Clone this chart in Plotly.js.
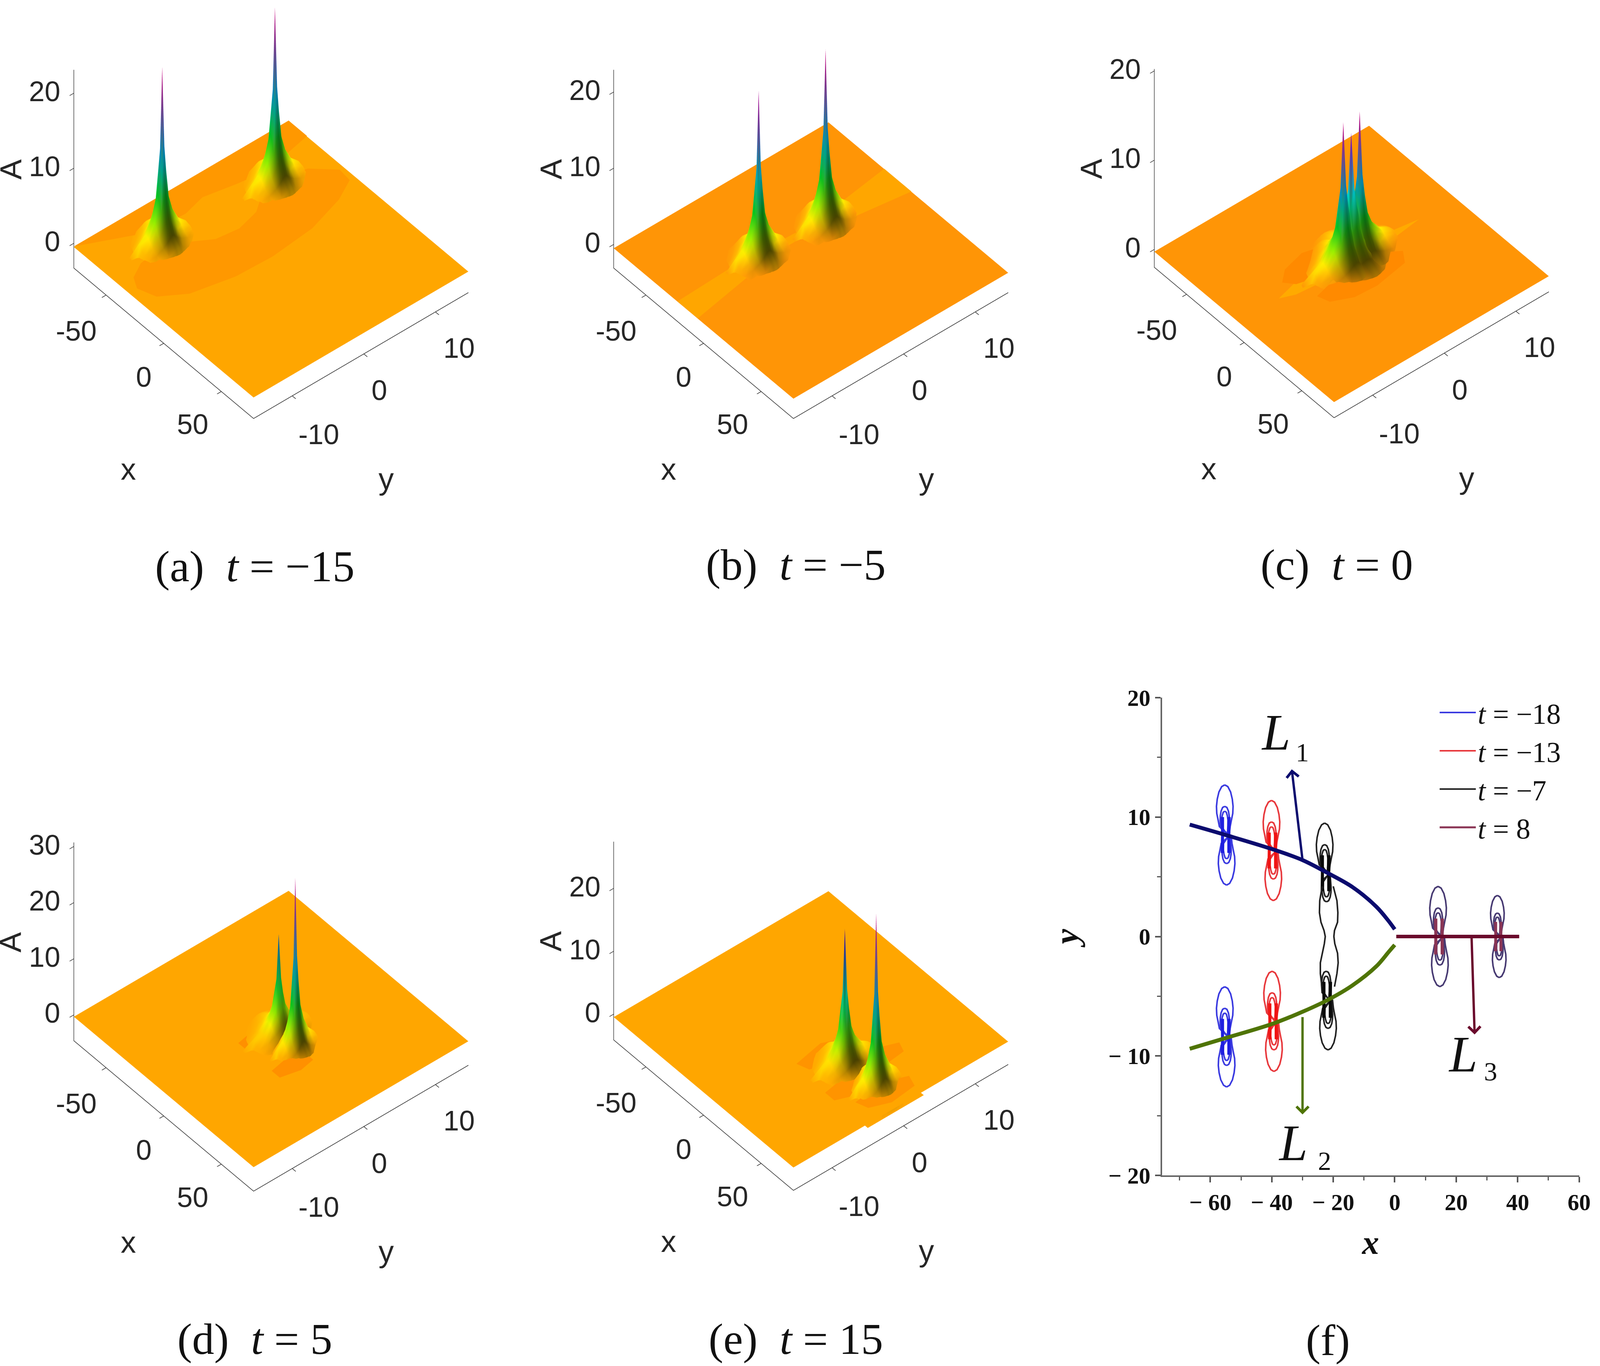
<!DOCTYPE html>
<html>
<head>
<meta charset="utf-8">
<script src="https://cdn.plot.ly/plotly-3.0.1.min.js"></script>
<style>
html,body{margin:0;padding:0;background:#fff;overflow:hidden}
.panel3d{position:absolute}
#chart{position:absolute;left:0;top:0;pointer-events:none}
</style>
</head>
<body>
<div id="p0" class="panel3d"></div>
<div id="p1" class="panel3d"></div>
<div id="p2" class="panel3d"></div>
<div id="p3" class="panel3d"></div>
<div id="p4" class="panel3d"></div>
<div id="chart"></div>
<script>
// positions below are in pixels of the 5442x3497 reference; the browser may give a narrower window
const W = 5442, H = 3497;
const pageW = Math.min(window.innerWidth || W, W);
const squeeze = pageW / W;
const textScale = 0.87 + 0.13 * (squeeze - 0.7526) / 0.2474;

// panels a-e: view box
const xRange = [-78, 78];
const yRange = [-15.4, 14.6];
const xTicks = [-50, 0, 50];
const yTicks = [-10, 0, 10];
const zRanges = [[-3.3, 23.1], [-3.1, 22.9], [-2.0, 20.2], [-4.6, 30.7], [-4.1, 27.4]];
const zTicks = [[0, 10, 20], [0, 10, 20], [0, 10, 20], [0, 10, 20, 30], [0, 10, 20]];
const plateLevels = [-0.5, -0.5, -0.25, -0.33, -0.47];
const plateColors = [[255, 166, 0], [255, 149, 6], [255, 149, 6], [255, 166, 0], [255, 166, 0]];
const colourTops = [22.5, 22, 15.3, 29.5, 26.5];

// peak centres (x, y), height and footprint
const peaksX = [[-51, -47], [-22.4, -19], [-4.7, -6, -5.3], [3.5, 18.5], [31.3, 56]];
const peaksY = [[-7.4, 7.7], [-4.1, 4.7], [-0.8, 1.7, 0.4], [0.1, 0], [-0.7, -0.3]];
const peaksA = [[22.5, 22.5], [21, 22], [15.3, 15.2, 13.5], [16.8, 29.5], [20.5, 26.5]];
const peaksWide = [[1, 1], [1, 1], [1.3, 1.3, 1.5], [1.1, 0.8], [1.05, 0.85]];

// height profile of one lump
const spikeDX = [-20, -14, -9, -5.5, -3.2, -1.6, 0, 1.6, 3.2, 5.5, 9, 14, 20];
const spikeDY = [-4.6, -3.3, -2.2, -1.3, -0.65, -0.3, 0, 0.3, 0.65, 1.3, 2.2, 3.3, 4.6];
const spikeZ = [
  [-2, -2, -2, -2, -2, -2, -0.4, -0.3, -2, -2, -2, -2, -2],
  [-2, -2, -0.6, -0.4, -0.1, 0.1, 0.7, 0.8, 0.1, -0.1, -0.4, -0.6, -2],
  [-2, -0.6, -0.3, 0.1, 0.6, 1, 1.2, 1, 0.6, 0.1, -0.3, -0.6, -2],
  [-2, -0.4, 0.1, 0.9, 1.9, 2.6, 3, 2.6, 1.9, 0.9, 0.1, -0.4, -2],
  [-2, -0.1, 0.6, 1.9, 3.5, 5, 5.8, 5, 3.5, 1.9, 0.6, -0.1, -2],
  [-2, 0.1, 1, 2.6, 5, 8.5, 11.5, 8.5, 5, 2.6, 1, 0.1, -2],
  [-2, 0.2, 1.2, 3, 5.8, 11.5, 22, 11.5, 5.8, 3, 1.2, 0.2, -2],
  [-2, 0.1, 1, 2.6, 5, 8.5, 11.5, 8.5, 5, 2.6, 1, 0.1, -2],
  [-2, -0.1, 0.6, 1.9, 3.5, 5, 5.8, 5, 3.5, 1.9, 0.6, -0.1, -2],
  [-2, -0.4, 0.1, 0.9, 1.9, 2.6, 3, 2.6, 1.9, 0.9, 0.1, -0.4, -2],
  [-2, -0.6, -0.3, 0.1, 0.6, 1, 1.2, 1, 0.6, 0.1, -0.3, -0.6, -2],
  [-2, -2, -0.6, -0.4, -0.1, 0.1, 0.2, 0.1, -0.1, -0.4, -0.6, -2, -2],
  [-2, -2, -2, -2, -2, -2, -2, -2, -2, -2, -2, -2, -2]
];
// brightness of the lump: the side facing the viewer is dark near the ground
const spikeShade = [
  [1, 1, 1, 1, 1, 1, 1, 1, 1, 1, 1, 1, 1],
  [1, 1, 1, 1, 1, 1, 1, 1, 1, 1, 1, 1, 1],
  [1, 1, 1, 1, 1, 1, 1, 1, 1, 0.95, 0.9, 1, 1],
  [1, 1, 1, 1, 1, 1, 1, 1, 0.9, 0.75, 0.7, 0.85, 1],
  [1, 1, 1, 1, 1, 1, 1, 0.95, 0.75, 0.5, 0.4, 0.7, 1],
  [1, 1, 1, 1, 1, 1, 1, 0.9, 0.65, 0.38, 0.3, 0.6, 1],
  [1, 1, 1, 1, 1, 1, 1, 0.9, 0.6, 0.35, 0.28, 0.6, 1],
  [1, 1, 1, 1, 1, 0.88, 0.85, 0.8, 0.62, 0.38, 0.3, 0.6, 1],
  [1, 1, 1, 1, 1, 0.85, 0.82, 0.78, 0.68, 0.5, 0.4, 0.7, 1],
  [1, 1, 1, 1, 1, 0.85, 0.82, 0.8, 0.8, 0.75, 0.7, 0.85, 1],
  [1, 1, 1, 1, 1, 1, 1, 1, 1, 0.95, 0.9, 1, 1],
  [1, 1, 1, 1, 1, 1, 1, 1, 1, 1, 1, 1, 1],
  [1, 1, 1, 1, 1, 1, 1, 1, 1, 1, 1, 1, 1]
];
const stopPlaces = [0, 0.07, 0.14, 0.27, 0.38, 0.47, 0.6, 0.72, 0.86, 1];
const stopColors = [[255, 166, 0], [255, 240, 0], [144, 240, 0], [0, 192, 32], [0, 176, 128], [0, 216, 224], [0, 48, 176], [16, 0, 160], [128, 0, 192], [208, 0, 128]];

// tinted regions on the plates: outline points in x and y, with a colour
const tintA1X = [-30, -18, -8, -2, -1, -4, -12, -20, -30, -42, -47, -42, -34, -30, -32, -40, -47, -44, -38];
const tintA1Y = [-14.3, -13.5, -10.5, -5, 0, 6, 11, 13.8, 14, 11.5, 8, 5, 3, 0, -3, -5.5, -8, -11.5, -13.5];
const tintA2X = [-78, -60, -58, -62, -58, -55, -62, -78];
const tintA2Y = [-15.4, -8, -3, 0, 4, 8, 14.6, 14.6];
const tintB1X = [-22.6, -5, -13, -17, -17, -12, -6, -29.6, -24, -22, -23, -24];
const tintB1Y = [-15.4, -15.4, -8, -2, 2, 6, 14.6, 14.6, 8, 2, -2, -8];
const tintC1X = [-4.7, -1, 1, 1.5, 0, -3, -6.5, -9, -9.5, -8.5];
const tintC1Y = [-9.8, -8, -4, 0, 5, 9.5, 5, 1, -3, -7];
const tintC2X = [-13, -7, -3, -5, -12, -20, -24, -20];
const tintC2Y = [-8, -7, -4, -1, 0.5, -0.5, -3.5, -6.5];
const tintC3X = [8, 16, 22, 23, 19, 11, 4, 2];
const tintC3Y = [-6.5, -6, -3.5, -0.5, 4, 5, 3, -2];
const tintD1X = [-3, 3, 6, 4, -1, -5];
const tintD1Y = [-4.5, -4.5, -2.5, -1, -0.8, -2.5];
const tintD2X = [26, 33, 36, 34, 27, 24];
const tintD2Y = [-4.5, -4.5, -2, 0, 0, -2.5];
const tintE1X = [16, 24, 28, 26, 19, 12];
const tintE1Y = [-5, -4.5, -2, 1.5, 2, -1];
const tintE2X = [44, 52, 57, 54, 47, 41];
const tintE2Y = [-5.5, -5.5, -3, 0.5, 1, -2];
const tintE3X = [37, 44, 49, 47, 40, 35];
const tintE3Y = [-1, -1, 1.5, 5, 5.5, 3];
const tintE4X = [61, 69, 74, 72, 64, 58];
const tintE4Y = [-4, -3.5, -1, 2.5, 3, 0];
const darkTint = 'rgb(255,152,0)', paleTint = 'rgb(255,166,0)';
const tints = [
  [[tintA1X, tintA1Y, -15, -1, darkTint], [tintA2X, tintA2Y, -68, 0, darkTint]],
  [[tintB1X, tintB1Y, -19, 0, paleTint]],
  [[tintC1X, tintC1Y, -4, 0, 'rgb(255,170,0)'], [tintC2X, tintC2Y, -13, -3.6, 'rgb(255,138,0)'], [tintC3X, tintC3Y, 12, -0.5, 'rgb(255,138,0)']],
  [[tintD1X, tintD1Y, 1, -2.6, 'rgb(255,144,0)'], [tintD2X, tintD2Y, 30, -2, 'rgb(255,144,0)']],
  [[tintE1X, tintE1Y, 20, -1.5, 'rgb(255,148,0)'], [tintE2X, tintE2Y, 49, -2.3, 'rgb(255,148,0)'], [tintE3X, tintE3Y, 42, 2, 'rgb(255,148,0)'], [tintE4X, tintE4Y, 66, -0.5, 'rgb(255,148,0)']]
];

// box centre of each 3D panel on the page, in pixels
const panelCX = [921.5, 2758.5, 4596.5, 921.5, 2758.5];
const panelCY = [463.5, 463.5, 462, 2442, 2440];
const captions = ['(a)  <i>t</i> = −15', '(b)  <i>t</i> = −5', '(c)  <i>t</i> = 0', '(d)  <i>t</i> = 5', '(e)  <i>t</i> = 15', '(f)'];
const captionX = [867, 2707, 4547, 867, 2707, 4516];
const captionY = [1449, 1445, 1445, 3427, 3427, 3430];

// 3D tick label spots, relative to the box centre
const xLabelText = ['-50', '0', '50'];
const xLabelDX = [-663, -433, -267];
const xLabelDY = [383, 502, 623];
const yLabelText = ['-10', '0', '10'];
const yLabelDX = [163, 369, 639];
const yLabelDY = [648, 536, 427];
const zLabelDX = -714;

// panel f: curves
const L1x = [-66.7, -55, -39.7, -30, -21.7, -13.8, -6, -2, 0];
const L1y = [9.37, 8.5, 7.3, 6.4, 5.3, 4.15, 2.5, 1.3, 0.6];
const L2x = [-66.7, -55, -39.7, -30, -21.7, -13.8, -6, -2, 0];
const L2y = [-9.4, -8.5, -7.3, -6.3, -5.3, -4.1, -2.5, -1.3, -0.7];
const L3x = [0.5, 40.5];
const L3y = [0, 0];

// lump contours, right half of the upper lobe, relative to the lump centre
const outerDX = [0, 1.0, 1.9, 2.45, 2.7, 2.6, 2.2, 1.75, 1.45];
const outerDY = [4.2, 4.05, 3.6, 3.0, 2.4, 1.8, 1.3, 0.7, 0];
const ringDX = [0, 0.7, 1.2, 1.45, 1.5, 1.35, 1.15];
const ringDY = [2.4, 2.3, 2.0, 1.6, 1.25, 0.6, 0];
const innerDX = [0, 0.5, 0.85, 1.05, 1.0, 0.85];
const innerDY = [2.0, 1.9, 1.6, 1.25, 0.7, 0];
const wallDX = [[0.85, 0.85], [1.1, 1.1], [1.3, 1.2]];
const wallDY = [1.5, 0];
const peanutX = [-23.6, -24.4, -24.5, -24, -23, -22.6, -22.9, -23.6, -24.2, -24.2, -23.7];
const peanutXr = [-20, -18.8, -18.5, -18.6, -19.6, -19.8, -19.5, -18.6, -18.4, -18.8, -19.6];
const peanutY = [4.2, 3, 2, 1.2, 0.5, 0, -0.6, -1.4, -2.2, -3.1, -4.2];

const blueX = [-55, -55], blueY = [8.5, -8.4];
const redX = [-39.8, -39.6], redY = [7.2, -7.1];
const blackX = [-22.5, -22], blackY = [5.3, -5.3];
const plumX = [14.4, 33.7], plumY = [0, 0], plumSize = [1, 0.82];

const seriesNames = ['<i>t</i> = −18', '<i>t</i> = −13', '<i>t</i> = −7', '<i>t</i> = 8'];
const xfTicks = [-60, -40, -20, 0, 20, 40, 60];
const xfLabels = ['− 60', '− 40', '− 20', '0', '20', '40', '60'];
const yfTicks = [-20, -10, 0, 10, 20];
const yfLabels = ['− 20', '− 10', '0', '10', '20'];

const traces = [];
const layout = {
  width: pageW, height: H,
  margin: {l: 0, r: 0, t: 0, b: 0},
  paper_bgcolor: 'rgba(0,0,0,0)', plot_bgcolor: 'rgba(0,0,0,0)',
  showlegend: true,
  annotations: []
};

// view of the 3D box, worked out from how its edges lie on the page
const xEdgeW = 611 * squeeze, xEdgeH = 385, yEdgeW = 732 * squeeze, yEdgeH = 323, zEdgeH = 507;
const sinEl = Math.sqrt((xEdgeH / xEdgeW) * (yEdgeH / yEdgeW));
const tanAz = Math.sqrt((xEdgeH / xEdgeW) / (yEdgeH / yEdgeW));
const az = Math.atan(tanAz), cosEl = Math.sqrt(1 - sinEl * sinEl);
const xSpanPx = xEdgeW / Math.cos(az);
const zAspect = zEdgeH / cosEl / xSpanPx;
const EYE_LEN = 1.15;
const EYE = [Math.sin(az) * cosEl * EYE_LEN, -Math.cos(az) * cosEl * EYE_LEN, sinEl * EYE_LEN];
const HALF_H = Math.round(xSpanPx);
const HALF_W = Math.round((xEdgeW + yEdgeW) / 2 + 25);

function sceneAxis(range, ticks) {
  return {
    range: range, tickvals: ticks, showticklabels: false,
    title: {text: ''},
    showgrid: false, zeroline: false, showbackground: false, showspikes: false,
    showline: true, linecolor: '#222', linewidth: 3,
    ticks: 'outside', ticklen: 14, tickwidth: 3, tickcolor: '#222'
  };
}
function pageText(px, py, text, size, extra) {
  layout.annotations.push(Object.assign({
    xref: 'paper', yref: 'paper', x: px / W, y: 1 - py / H, text: text, showarrow: false,
    xanchor: 'center', yanchor: 'middle',
    font: {family: 'Liberation Sans', size: size * textScale, color: '#262626'}
  }, extra || {}));
}
function heightColour(v, p, shade) {
  const t = Math.min(1, Math.max(0, (v - plateLevels[p]) / (colourTops[p] - plateLevels[p])));
  let n = 0;
  while (n < stopPlaces.length - 2 && t > stopPlaces[n + 1]) n++;
  const f = (t - stopPlaces[n]) / (stopPlaces[n + 1] - stopPlaces[n]);
  const a = n === 0 ? plateColors[p] : stopColors[n], b = stopColors[n + 1];
  const c = [0, 1, 2].map(q => Math.round((a[q] + (b[q] - a[q]) * f) * shade));
  return 'rgb(' + c.join(',') + ')';
}

zRanges.forEach((zr, p) => {
  const box = document.getElementById('p' + p);
  box.style.left = (panelCX[p] * squeeze - HALF_W) + 'px';
  box.style.top = (panelCY[p] - HALF_H) + 'px';
  box.style.width = (2 * HALF_W) + 'px';
  box.style.height = (2 * HALF_H) + 'px';

  // one mesh per panel: plate, tints and lumps share it
  const mx = [], my = [], mz = [], mc = [], mi = [], mj = [], mk = [];
  const plateRGB = 'rgb(' + plateColors[p].join(',') + ')';
  [[xRange[0], yRange[0]], [xRange[1], yRange[0]], [xRange[0], yRange[1]], [xRange[1], yRange[1]]].forEach(c => {
    mx.push(c[0]); my.push(c[1]); mz.push(plateLevels[p]); mc.push(plateRGB);
  });
  mi.push(0, 1); mj.push(1, 3); mk.push(2, 2);

  tints[p].forEach((t, n) => {
    const base = mx.length, m = t[0].length, level = plateLevels[p] + 0.04 * (n + 1);
    mx.push(t[2]); my.push(t[3]); mz.push(level); mc.push(t[4]);
    t[0].forEach((v, q) => { mx.push(v); my.push(t[1][q]); mz.push(level); mc.push(t[4]); });
    for (let q = 0; q < m; q++) { mi.push(base); mj.push(base + q + 1); mk.push(base + (q + 1) % m + 1); }
  });

  peaksX[p].forEach((px, n) => {
    const base = mx.length, gain = peaksA[p][n] / 22, wide = peaksWide[p][n];
    const nx = spikeDX.length, ny = spikeDY.length;
    spikeDY.forEach((dy, r) => spikeDX.forEach((dx, c) => {
      const v = spikeZ[r][c] * gain;
      mx.push(px + dx * wide); my.push(peaksY[p][n] + dy * wide); mz.push(v);
      mc.push(heightColour(v, p, spikeShade[r][c]));
    }));
    for (let r = 0; r < ny - 1; r++) for (let c = 0; c < nx - 1; c++) {
      const a = base + r * nx + c, b = a + 1, d = a + nx, e = d + 1;
      mi.push(a, b); mj.push(b, e); mk.push(d, d);
    }
  });

  const data3d = [{
    type: 'mesh3d', hoverinfo: 'skip',
    x: mx, y: my, z: mz, i: mi, j: mj, k: mk, vertexcolor: mc,
    lighting: {ambient: 1, diffuse: 0, specular: 0, roughness: 1, fresnel: 0}
  }];
  Plotly.newPlot(box, data3d, {
    width: 2 * HALF_W, height: 2 * HALF_H,
    margin: {l: 0, r: 0, t: 0, b: 0},
    paper_bgcolor: 'rgba(0,0,0,0)',
    scene: {
      domain: {x: [0, 1], y: [0, 1]},
      aspectmode: 'manual',
      aspectratio: {x: 1, y: 1, z: zAspect},
      camera: {
        projection: {type: 'orthographic'},
        up: {x: 0, y: 0, z: 1},
        center: {x: 0, y: 0, z: 0},
        eye: {x: EYE[0], y: EYE[1], z: EYE[2]}
      },
      xaxis: sceneAxis(xRange, xTicks),
      yaxis: sceneAxis(yRange, yTicks),
      zaxis: sceneAxis(zr, zTicks[p])
    }
  }, {displayModeBar: false});

  const cx = panelCX[p], cy = panelCY[p];
  xLabelText.forEach((t, n) => pageText(cx + xLabelDX[n], cy + xLabelDY[n], t, 83));
  yLabelText.forEach((t, n) => pageText(cx + yLabelDX[n], cy + yLabelDY[n], t, 83));
  zTicks[p].forEach(v => {
    const ty = cy + 222.5 - (v - zr[0]) / (zr[1] - zr[0]) * 507 - 5;
    pageText(cx + zLabelDX, ty, String(v), 83, {xanchor: 'right'});
  });
  pageText(cx - 485, cy + 738, 'x', 90);
  pageText(cx + 392, cy + 762, 'y', 90);
  pageText(cx - 885, cy - 30, 'A', 90, {textangle: -90});
  pageText(captionX[p], captionY[p], captions[p], 130, {font: {family: 'Liberation Serif', size: 130 * textScale, color: '#111'}});
});

pageText(captionX[5], captionY[5], captions[5], 130, {font: {family: 'Liberation Serif', size: 130 * textScale, color: '#111'}});

// panel f
function closedLump(cx, cy, dx, dy, size, upper) {
  const sign = upper ? 1 : -1, lean = upper ? -0.3 : 0.3;
  const xs = [], ys = [];
  dx.forEach((v, q) => { xs.push(cx + lean + v * size); ys.push(cy + sign * dy[q] * size); });
  for (let q = dx.length - 2; q >= 0; q--) { xs.push(cx + lean - dx[q] * size); ys.push(cy + sign * dy[q] * size); }
  return [xs, ys];
}
function lumpPaths(cxs, cys, sizes, skipOuterInner) {
  const X = [], Y = [];
  const add = (r) => { X.push(...r[0], null); Y.push(...r[1], null); };
  cxs.forEach((cx, n) => {
    const s = sizes ? sizes[n] : 1, cy = cys[n];
    [true, false].forEach(up => {
      const hideOuter = skipOuterInner && ((n === 0 && !up) || (n === 1 && up));
      if (!hideOuter) add(closedLump(cx, cy, outerDX, outerDY, s, up));
      add(closedLump(cx, cy, ringDX, ringDY, s, up));
      add(closedLump(cx, cy, innerDX, innerDY, s, up));
    });
  });
  return {x: X, y: Y};
}
function wallPaths(cxs, cys, sizes) {
  const X = [], Y = [];
  cxs.forEach((cx, n) => {
    const s = sizes ? sizes[n] : 1, cy = cys[n];
    wallDX.forEach(w => {
      X.push(cx + w[0] * s, cx + w[1] * s, cx + w[0] * s, null, cx - w[0] * s, cx - w[1] * s, cx - w[0] * s, null);
      Y.push(cy + wallDY[0] * s, cy, cy - wallDY[0] * s, null, cy + wallDY[0] * s, cy, cy - wallDY[0] * s, null);
    });
  });
  return {x: X, y: Y};
}
function addGroup(cxs, cys, sizes, color, wallColor, name, wallNamed, skip) {
  const a = lumpPaths(cxs, cys, sizes, skip), b = wallPaths(cxs, cys, sizes);
  traces.push({type: 'scatter', mode: 'lines', x: a.x, y: a.y, name: name, showlegend: !wallNamed,
    line: {color: color, width: 4}, hoverinfo: 'skip', xaxis: 'x', yaxis: 'y'});
  traces.push({type: 'scatter', mode: 'lines', x: b.x, y: b.y, name: name, showlegend: wallNamed,
    line: {color: wallColor, width: 5}, hoverinfo: 'skip', xaxis: 'x', yaxis: 'y'});
}
addGroup(blueX, blueY, null, '#3A3AE0', '#1F1FE0', seriesNames[0], false, false);
addGroup(redX, redY, null, '#E8383C', '#F01414', seriesNames[1], false, false);
addGroup(blackX, blackY, null, '#222222', '#0A0A0A', seriesNames[2], false, true);
traces.push({type: 'scatter', mode: 'lines', x: peanutX, y: peanutY, showlegend: false, line: {color: '#222222', width: 4}, hoverinfo: 'skip'});
traces.push({type: 'scatter', mode: 'lines', x: peanutXr, y: peanutY, showlegend: false, line: {color: '#222222', width: 4}, hoverinfo: 'skip'});
addGroup(plumX, plumY, plumSize, '#473A72', '#8A3555', seriesNames[3], true, false);

traces.push({type: 'scatter', mode: 'lines', x: L1x, y: L1y, showlegend: false, line: {color: '#0B0B6E', width: 10, shape: 'spline'}, hoverinfo: 'skip'});
traces.push({type: 'scatter', mode: 'lines', x: L2x, y: L2y, showlegend: false, line: {color: '#4F7405', width: 10, shape: 'spline'}, hoverinfo: 'skip'});
traces.push({type: 'scatter', mode: 'lines', x: L3x, y: L3y, showlegend: false, line: {color: '#6A0A2C', width: 9}, hoverinfo: 'skip'});

layout.xaxis = {
  domain: [3952.5 / W, 5371 / W], range: [-75.7, 60], anchor: 'y',
  tickvals: xfTicks, ticktext: xfLabels, ticks: 'outside', ticklen: 14, tickwidth: 4, tickcolor: '#555',
  minor: {dtick: 10, ticks: 'outside', ticklen: 9, tickwidth: 3, tickcolor: '#555'},
  showline: true, linecolor: '#666', linewidth: 4, showgrid: false, zeroline: false,
  tickfont: {family: 'Liberation Serif', size: 68 * textScale, color: '#111', weight: 'bold'},
  title: {text: '<b><i>x</i></b>', standoff: 40, font: {family: 'Liberation Serif', size: 100 * textScale, color: '#111'}}
};
layout.yaxis = {
  domain: [1 - 3009 / H, 1 - 1786 / H], range: [-20, 20], anchor: 'x',
  tickvals: yfTicks, ticktext: yfLabels, ticks: 'outside', ticklen: 14, tickwidth: 4, tickcolor: '#555',
  minor: {dtick: 5, ticks: 'outside', ticklen: 9, tickwidth: 3, tickcolor: '#555'},
  showline: true, linecolor: '#666', linewidth: 4, showgrid: false, zeroline: false,
  tickfont: {family: 'Liberation Serif', size: 68 * textScale, color: '#111', weight: 'bold'},
  title: {text: '<b><i>y</i></b>', standoff: 50, font: {family: 'Liberation Serif', size: 100 * textScale, color: '#111'}}
};
layout.legend = {
  x: 4890 / W, y: 1 - 1770 / H, xanchor: 'left', yanchor: 'top', bgcolor: 'rgba(0,0,0,0)',
  font: {family: 'Liberation Serif', size: 84 * textScale, color: '#111'},
  itemwidth: 123 * squeeze, tracegroupgap: 0
};

// arrows and curve names
const arrowTipX = [-33.5, -30, 26], arrowTipY = [14, -14.9, -8.2];
const arrowTailX = [-30, -30, 25], arrowTailY = [6.4, -6.7, 0];
const arrowColors = ['#0B0B6E', '#4F7405', '#6A0A2C'];
arrowTipX.forEach((tx, n) => layout.annotations.push({
  xref: 'x', yref: 'y', axref: 'x', ayref: 'y',
  x: tx, y: arrowTipY[n], ax: arrowTailX[n], ay: arrowTailY[n], text: '', showarrow: true,
  arrowhead: 4, arrowsize: 1, arrowwidth: 6, arrowcolor: arrowColors[n]
}));
const nameX = [-38.6, -33, 22.2], nameY = [17.1, -17.3, -9.85];
const subX = [-30.1, -22.8, 31.2], subY = [15.4, -18.8, -11.3];
const subText = ['1', '2', '3'];
nameX.forEach((nx, n) => {
  layout.annotations.push({xref: 'x', yref: 'y', x: nx, y: nameY[n], text: '<i>L</i>', showarrow: false,
    font: {family: 'Liberation Serif', size: 150 * textScale, color: '#111'}});
  layout.annotations.push({xref: 'x', yref: 'y', x: subX[n], y: subY[n], text: subText[n], showarrow: false,
    font: {family: 'Liberation Serif', size: 78 * textScale, color: '#111'}});
});

document.getElementById('chart').style.width = pageW + 'px';
document.getElementById('chart').style.height = H + 'px';
Plotly.newPlot('chart', traces, layout, {displayModeBar: false});
</script>
</body>
</html>
